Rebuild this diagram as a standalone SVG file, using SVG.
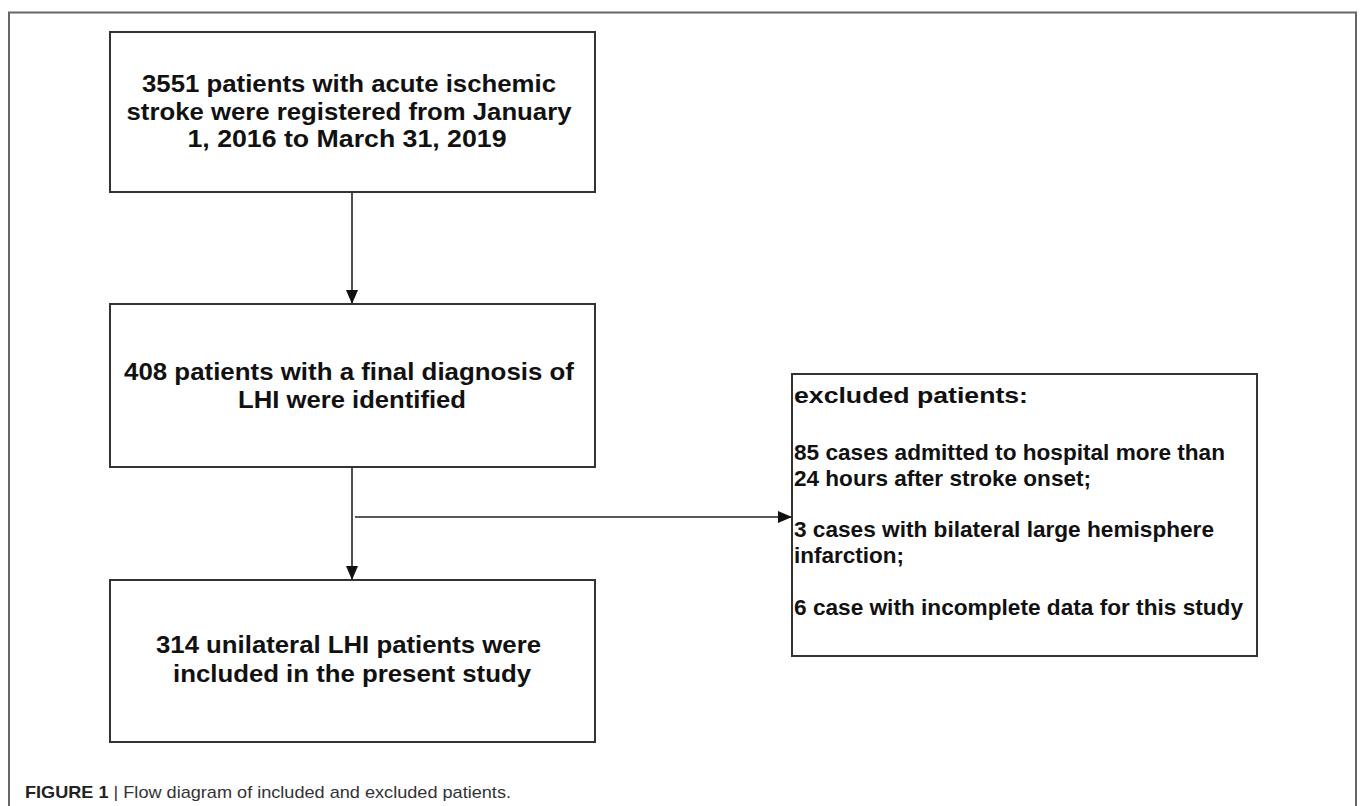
<svg xmlns="http://www.w3.org/2000/svg" width="1360" height="806" viewBox="0 0 1360 806">
<defs>
<marker id="ah" markerUnits="userSpaceOnUse" markerWidth="14" markerHeight="12" refX="14" refY="6" orient="auto">
<path d="M0,0 L14,6 L0,12 Z" fill="#111"/>
</marker>
<style>
.box{fill:#fff;stroke:#333;stroke-width:2}
.t{font-family:"Liberation Sans",Arial,sans-serif;font-weight:bold;font-size:24px;fill:#111}
.e{font-family:"Liberation Sans",Arial,sans-serif;font-weight:bold;font-size:22px;fill:#111}
.c{font-family:"Liberation Sans",Arial,sans-serif;font-size:17px;fill:#333}
.ln{stroke:#222;stroke-width:1.6;fill:none}
</style>
</defs>
<rect width="1360" height="806" fill="#fff"/>
<path d="M9,806 V12.5 H1356 V806" fill="none" stroke="#666" stroke-width="2"/>
<g id="connectors">
<line class="ln" x1="352" y1="192" x2="352" y2="304" marker-end="url(#ah)"/>
<line class="ln" x1="352" y1="467" x2="352" y2="580" marker-end="url(#ah)"/>
<line class="ln" x1="355" y1="517" x2="792" y2="517" marker-end="url(#ah)"/>
</g>
<g id="n1">
<rect class="box" x="110" y="32" width="485" height="160"/>
<text class="t" x="349" y="92" text-anchor="middle" textLength="414" lengthAdjust="spacingAndGlyphs">3551 patients with acute ischemic</text>
<text class="t" x="349" y="120" text-anchor="middle" textLength="445" lengthAdjust="spacingAndGlyphs">stroke were registered from January</text>
<text class="t" x="347" y="147" text-anchor="middle" textLength="319" lengthAdjust="spacingAndGlyphs">1, 2016 to March 31, 2019</text>
</g>
<g id="n2">
<rect class="box" x="110" y="304" width="485" height="163"/>
<text class="t" x="349" y="380" text-anchor="middle" textLength="450" lengthAdjust="spacingAndGlyphs">408 patients with a final diagnosis of</text>
<text class="t" x="352" y="408" text-anchor="middle" textLength="228" lengthAdjust="spacingAndGlyphs">LHI were identified</text>
</g>
<g id="n3">
<rect class="box" x="110" y="580" width="485" height="162"/>
<text class="t" x="348.5" y="653" text-anchor="middle" textLength="385" lengthAdjust="spacingAndGlyphs">314 unilateral LHI patients were</text>
<text class="t" x="352" y="682" text-anchor="middle" textLength="358" lengthAdjust="spacingAndGlyphs">included in the present study</text>
</g>
<g id="n4">
<rect class="box" x="792" y="374" width="465" height="282"/>
<text class="e" x="794" y="403" textLength="234" lengthAdjust="spacingAndGlyphs">excluded  patients:</text>
<text class="e" x="794" y="460" textLength="431" lengthAdjust="spacingAndGlyphs">85 cases admitted to hospital more than</text>
<text class="e" x="794" y="486" textLength="297" lengthAdjust="spacingAndGlyphs">24 hours after stroke onset;</text>
<text class="e" x="794" y="537" textLength="420" lengthAdjust="spacingAndGlyphs">3 cases with bilateral large hemisphere</text>
<text class="e" x="794" y="563" textLength="110" lengthAdjust="spacingAndGlyphs">infarction;</text>
<text class="e" x="794" y="615" textLength="449" lengthAdjust="spacingAndGlyphs">6 case with incomplete data for this study</text>
</g>
<g id="caption">
<text class="c" x="25" y="798" textLength="486" lengthAdjust="spacingAndGlyphs"><tspan font-weight="bold" fill="#222">FIGURE 1</tspan> | Flow diagram of included and excluded patients.</text>
</g>
</svg>
